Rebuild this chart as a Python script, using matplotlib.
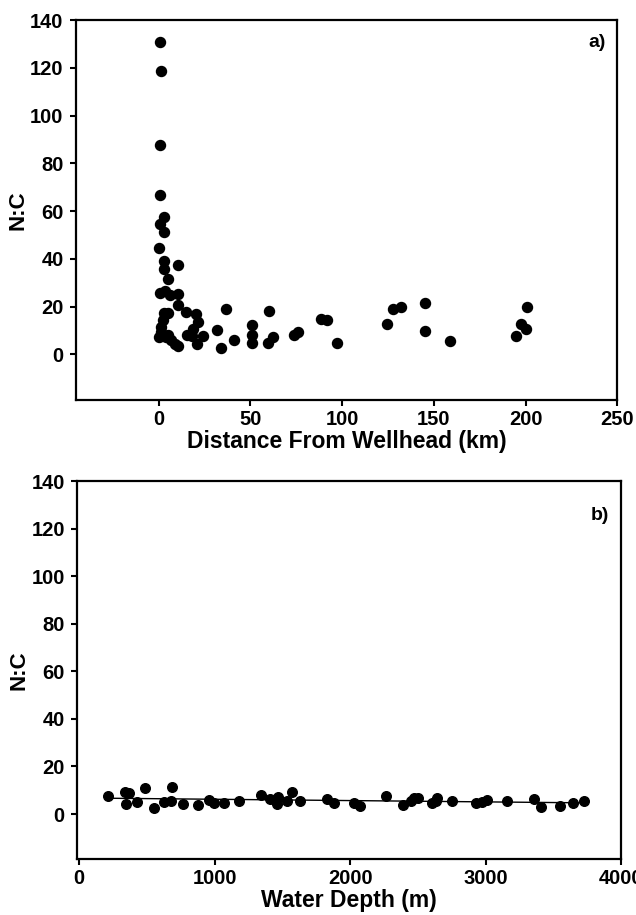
import numpy as np
import matplotlib.pyplot as plt

plt.rcParams["font.family"] = ["Liberation Sans", "DejaVu Sans"]
plt.rcParams["font.weight"] = "bold"

# panel a: N:C vs distance from wellhead
dist_km = [0.9, 1.3, 0.7, 0.7, 3, 0.7, 3, 0.4, 3, 3, 10.4, 5.3, 0.7, 6.2,
           10.4, 10.4, 3, 5, 1.6, 2.2, 3.5, 0.4, 3.8, 7, 9, 10.4, 5, 1.5,
           15, 20.4, 21.6, 19, 15.3, 18, 24.4, 20.7, 31.6, 33.8, 37, 41.3,
           50.7, 50.7, 50.7, 60.4, 59.5, 62.5, 73.8, 75.8, 88.5, 91.7, 97.2,
           124.4, 127.8, 131.9, 145, 145, 158.7, 194.8, 197.6, 200, 200.9]
nc_a = [130.9, 118.7, 87.6, 66.6, 57.5, 54.8, 51.4, 44.4, 39, 36, 37.6, 31.7,
        25.9, 25, 25.4, 20.7, 17.5, 17.5, 11.5, 14.6, 26.5, 7.3, 7.3, 6, 4.5,
        3.5, 8, 9.5, 17.9, 16.9, 13.7, 10.8, 8, 7.6, 7.6, 4.5, 10.4, 2.7, 19,
        6.2, 12.3, 8, 4.8, 18.3, 4.8, 7.3, 8, 9.4, 15, 14.4, 4.9, 12.7, 19,
        20, 21.4, 9.7, 5.6, 7.6, 12.7, 10.6, 20]

# panel b: N:C vs water depth
depth_m = [214, 338, 370, 345, 424, 486, 548, 627, 676, 683, 765, 880, 954,
           991, 1070, 1176, 1342, 1405, 1465, 1460, 1534, 1571, 1627, 1830,
           1884, 2027, 2071, 2261, 2389, 2446, 2470, 2503, 2606, 2643, 2631,
           2754, 2927, 2976, 3008, 3156, 3358, 3408, 3550, 3642, 3728]
nc_b = [7.4, 9.1, 8.7, 4.2, 5.2, 10.9, 2.5, 5.2, 5.6, 11.2, 4.2, 3.8, 6, 4.6,
        4.6, 5.6, 8.1, 6.3, 7, 4.2, 5.6, 9.1, 5.3, 6.3, 4.8, 4.6, 3.5, 7.4,
        3.9, 5.6, 6.6, 6.6, 4.6, 6.7, 5.6, 5.3, 4.6, 4.9, 5.9, 5.3, 6.3, 3.1,
        3.5, 4.5, 5.6]

yticks = np.arange(0, 141, 20)

fig = plt.figure(figsize=(6.36, 9.15), dpi=100)
ax1 = fig.add_axes([0.1195, 0.563, 0.851, 0.415])
ax2 = fig.add_axes([0.1215, 0.061, 0.855, 0.413])


def style(ax):
    for sp in ax.spines.values():
        sp.set_linewidth(1.6)
    ax.tick_params(direction="out", length=4, width=1.5, labelsize=14.5,
                   top=False, right=False)
    ax.tick_params(axis="y", pad=5)
    ax.tick_params(axis="x", pad=3)
    ax.set_yticks(yticks)
    ax.set_ylim(-19, 140)
    ax.set_ylabel("N:C", fontsize=16, fontweight="bold", labelpad=1)


ax1.scatter(dist_km, nc_a, s=52, color="black", zorder=3)
style(ax1)
ax1.set_xlim(-45, 250)
ax1.set_xticks([0, 50, 100, 150, 200, 250])
ax1.set_xlabel("Distance From Wellhead (km)", fontsize=16.5,
               fontweight="bold", labelpad=1)
ax1.text(0.978, 0.94, "a)", transform=ax1.transAxes, ha="right",
         va="center", fontsize=14, fontweight="bold")

# linear fit through the depth data
coef = np.polyfit(depth_m, nc_b, 1)
xfit = np.array([min(depth_m), max(depth_m)])
ax2.plot(xfit, np.polyval(coef, xfit), color="black", lw=1, zorder=2)
ax2.scatter(depth_m, nc_b, s=48, color="black", zorder=3)
style(ax2)
ax2.set_xlim(-15, 4000)
ax2.set_xticks([0, 1000, 2000, 3000, 4000])
ax2.set_xlabel("Water Depth (m)", fontsize=16.5, fontweight="bold",
               labelpad=1)
ax2.text(0.978, 0.91, "b)", transform=ax2.transAxes, ha="right",
         va="center", fontsize=14, fontweight="bold")

plt.savefig("out.png", dpi=100)
